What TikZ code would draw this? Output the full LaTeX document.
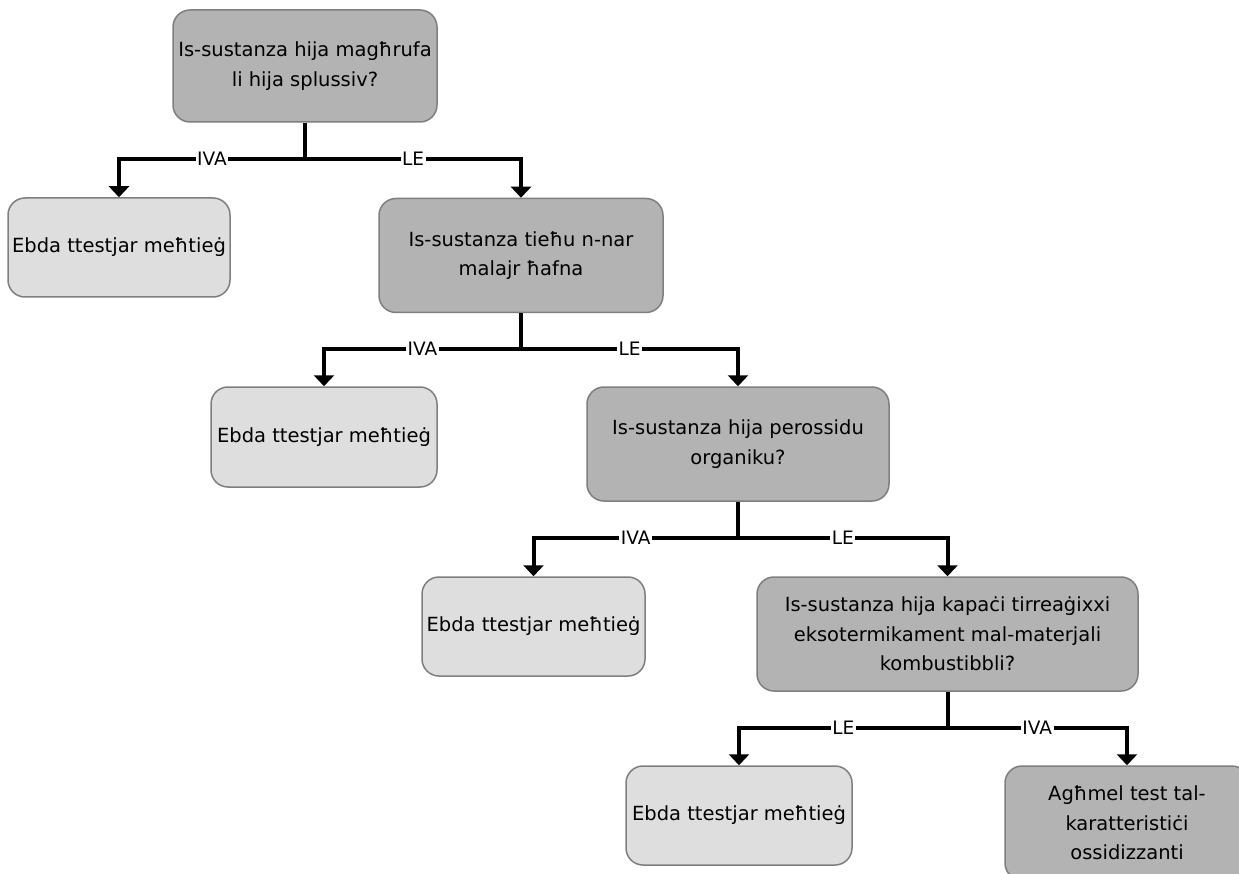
\documentclass[tikz,border=0pt]{standalone}
\usepackage{fontspec}
\setmainfont{DejaVu Sans}
\usetikzlibrary{arrows.meta}
\definecolor{darkbox}{HTML}{B3B3B3}
\definecolor{lightbox}{HTML}{DEDEDE}
\definecolor{edgegray}{HTML}{7F7F7F}
\begin{document}
\begin{tikzpicture}[x=1pt,y=-1pt,
  box/.style={draw=edgegray,line width=1.5pt,rounded corners=17pt,align=center,inner sep=0pt,font=\fontsize{19.5}{29.5}\selectfont},
  qbox/.style={box,fill=darkbox},
  ebox/.style={box,fill=lightbox},
  link/.style={line width=4pt},
  arr/.style={line width=4pt,-{Triangle[width=20pt,length=11pt]}},
  lbl/.style={fill=white,inner xsep=1.5pt,inner ysep=0pt,font=\fontsize{18.5}{18.5}\selectfont}]
\useasboundingbox (0,0) rectangle (1239,874);
\fill[white] (0,0) rectangle (1239,874);

\node[qbox,minimum width=264pt,minimum height=112pt] (q1) at (305,66) {Is-sustanza hija magħrufa\\li hija splussiv?};
\node[ebox,minimum width=222pt,minimum height=99pt] (e1) at (119,247.5) {Ebda ttestjar meħtieġ};
\node[qbox,minimum width=284pt,minimum height=114pt] (q2) at (521,255.5) {Is-sustanza tieħu n-nar\\malajr ħafna};
\node[ebox,minimum width=226pt,minimum height=100pt] (e2) at (324,437) {Ebda ttestjar meħtieġ};
\node[qbox,minimum width=302pt,minimum height=114pt] (q3) at (738,444) {Is-sustanza hija perossidu\\organiku?};
\node[ebox,minimum width=223pt,minimum height=99pt] (e3) at (533.5,626.5) {Ebda ttestjar meħtieġ};
\node[qbox,minimum width=381pt,minimum height=114pt] (q4) at (947.5,634) {Is-sustanza hija kapaċi tirreaġixxi\\eksotermikament mal-materjali\\kombustibbli?};
\node[ebox,minimum width=226pt,minimum height=99pt] (e4) at (739,815.5) {Ebda ttestjar meħtieġ};
\node[qbox,minimum width=244pt,minimum height=114pt] (r) at (1127,823) {Agħmel test tal-\\karatteristiċi\\ossidizzanti};

\coordinate (j1) at (305,159);
\coordinate (j2) at (521,349);
\coordinate (j3) at (738,538);
\coordinate (j4) at (947.5,728);

\draw[link] (q1.south) -- (j1);
\draw[arr] (j1) -- node[lbl]{IVA} (j1 -| e1) -- (e1.north);
\draw[arr] (j1) -- node[lbl]{LE} (j1 -| q2) -- (q2.north);

\draw[link] (q2.south) -- (j2);
\draw[arr] (j2) -- node[lbl]{IVA} (j2 -| e2) -- (e2.north);
\draw[arr] (j2) -- node[lbl]{LE} (j2 -| q3) -- (q3.north);

\draw[link] (q3.south) -- (j3);
\draw[arr] (j3) -- node[lbl]{IVA} (j3 -| e3) -- (e3.north);
\draw[arr] (j3) -- node[lbl]{LE} (j3 -| q4) -- (q4.north);

\draw[link] (q4.south) -- (j4);
\draw[arr] (j4) -- node[lbl]{LE} (j4 -| e4) -- (e4.north);
\draw[arr] (j4) -- node[lbl]{IVA} (j4 -| r) -- (r.north);
\end{tikzpicture}
\end{document}
